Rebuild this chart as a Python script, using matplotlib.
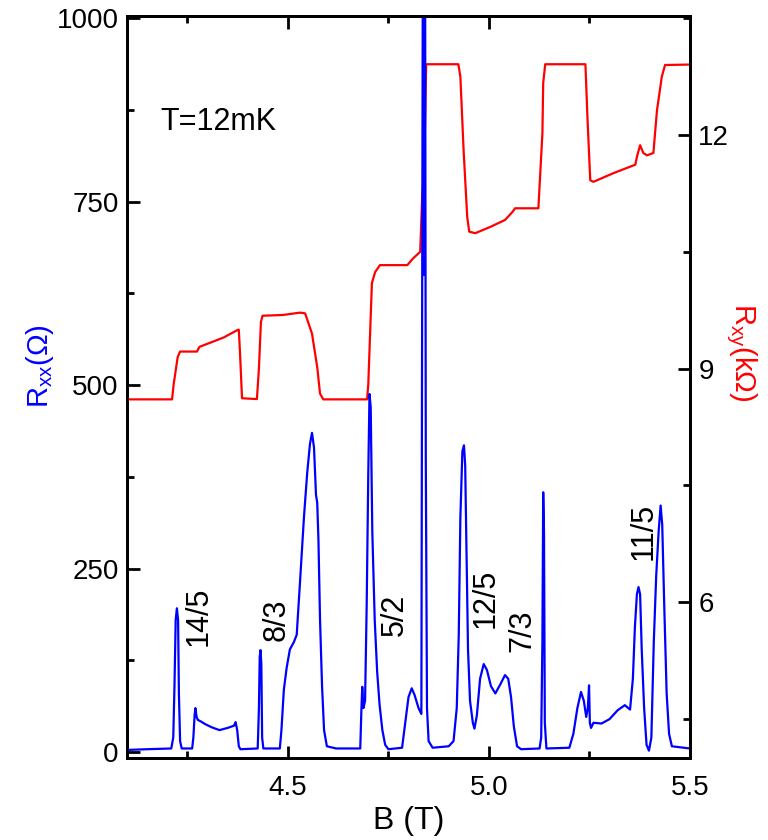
import matplotlib
matplotlib.use("Agg")
import matplotlib.pyplot as plt
from matplotlib.ticker import MultipleLocator

plt.rcParams['font.family'] = ['Liberation Sans', 'DejaVu Sans']
plt.rcParams['mathtext.fontset'] = 'custom'
plt.rcParams['mathtext.rm'] = 'Liberation Sans'

# Longitudinal resistance R_xx (Ohm) vs field B (T)
b_xx = [4.10, 4.15, 4.210, 4.215, 4.218, 4.221, 4.224, 4.227, 4.229, 4.232, 4.236,
        4.262, 4.265, 4.268, 4.270, 4.273, 4.276, 4.283, 4.295, 4.310, 4.330, 4.350,
        4.366, 4.370, 4.374, 4.378, 4.382,
        4.425, 4.428, 4.430, 4.432, 4.434, 4.436, 4.439,
        4.480, 4.484, 4.490, 4.497, 4.505, 4.515, 4.522, 4.530, 4.540, 4.548, 4.555,
        4.560, 4.565, 4.570, 4.573, 4.576, 4.580, 4.585, 4.590, 4.597, 4.620,
        4.680, 4.683, 4.685, 4.688, 4.692, 4.696, 4.700, 4.703, 4.706, 4.710, 4.716,
        4.722, 4.728, 4.735, 4.742, 4.750,
        4.784, 4.792, 4.800, 4.808, 4.815, 4.825, 4.832,
        4.834, 4.836, 4.838, 4.839, 4.841, 4.843, 4.846, 4.850, 4.860,
        4.900, 4.912, 4.920, 4.925, 4.929, 4.934, 4.938, 4.941, 4.944, 4.948, 4.953,
        4.960, 4.964, 4.970, 4.978, 4.987, 4.995, 5.005, 5.016, 5.028, 5.040, 5.048,
        5.055, 5.062, 5.070, 5.080,
        5.126, 5.130, 5.133, 5.135, 5.137, 5.139, 5.143,
        5.200, 5.210, 5.220, 5.229, 5.236, 5.242, 5.246, 5.249, 5.251, 5.254, 5.260,
        5.280, 5.300, 5.320, 5.338, 5.351, 5.358, 5.363, 5.368, 5.372, 5.376, 5.380,
        5.386, 5.392, 5.398, 5.404, 5.410, 5.416, 5.422, 5.427, 5.431, 5.436, 5.442,
        5.448, 5.455, 5.500]
r_xx = [3, 4, 5, 20, 90, 180, 196, 180, 80, 15, 5,
        5, 20, 50, 60, 48, 44, 42, 38, 34, 30, 33,
        36, 41, 30, 8, 4,
        5, 60, 130, 139, 120, 20, 5,
        5, 30, 85, 115, 140, 150, 160, 230, 320, 380, 420,
        435, 415, 350, 340, 290, 180, 90, 30, 8, 5,
        5, 60, 89, 60, 70, 200, 380, 488, 470, 300, 180,
        110, 65, 30, 10, 4,
        6, 40, 75, 87, 78, 60, 52,
        600, 1200, 650, 1200, 1200, 400, 60, 15, 6,
        8, 15, 60, 160, 320, 410, 418, 390, 280, 140, 70,
        40, 32, 50, 100, 120, 112, 90, 80, 92, 105, 100,
        75, 35, 8, 4,
        5, 20, 150, 354, 300, 40, 5,
        6, 25, 60, 82, 70, 48, 60, 91, 40, 33, 40,
        39, 45, 57, 64, 58, 100, 170, 215, 225, 215, 140,
        60, 10, 2, 20, 150, 240, 300, 336, 310, 200, 80,
        25, 8, 5]

# Hall resistance R_xy (kOhm) vs field B (T)
b_xy = [4.10, 4.212, 4.216, 4.226, 4.232, 4.274, 4.280, 4.300, 4.340, 4.376,
        4.378, 4.381, 4.386, 4.423, 4.428, 4.433, 4.437, 4.488, 4.530, 4.543,
        4.560, 4.573, 4.580, 4.588, 4.697, 4.700, 4.709, 4.717, 4.729, 4.797,
        4.812, 4.829, 4.834, 4.839, 4.844, 4.924, 4.929, 4.937, 4.946, 4.951,
        4.966, 5.003, 5.040, 5.058, 5.065, 5.123, 5.133, 5.135, 5.140, 5.240,
        5.245, 5.252, 5.260, 5.309, 5.364, 5.369, 5.376, 5.384, 5.393, 5.409,
        5.418, 5.430, 5.438, 5.500]
r_xy = [8.606, 8.606, 8.80, 9.15, 9.22, 9.22, 9.28, 9.32, 9.40, 9.50,
        9.50, 9.20, 8.62, 8.61, 9.00, 9.60, 9.68, 9.69, 9.72, 9.71,
        9.45, 9.02, 8.68, 8.606, 8.606, 8.80, 10.10, 10.24, 10.33, 10.33,
        10.42, 10.50, 11.20, 11.59, 12.91, 12.91, 12.75, 11.81, 10.95, 10.76,
        10.74, 10.82, 10.91, 11.01, 11.06, 11.06, 12.02, 12.67, 12.91, 12.91,
        12.23, 11.42, 11.40, 11.51, 11.62, 11.74, 11.87, 11.77, 11.74, 11.77,
        12.32, 12.75, 12.90, 12.906]

# Filling-factor labels and their anchor points (B, R_xx)
nu_labels = ['14/5', '8/3', '5/2', '12/5', '7/3', '11/5']
nu_b = [4.277, 4.473, 4.767, 4.991, 5.083, 5.384]
nu_r = [185, 180, 187, 210, 165, 301]

fig = plt.figure(figsize=(7.68, 8.4), dpi=100)
ax = fig.add_axes([0.1654, 0.0976, 0.733, 0.8834])
ax2 = ax.twinx()
ax.set_zorder(ax2.get_zorder() + 1)
ax.patch.set_visible(False)

ax2.plot(b_xy, r_xy, color='#ff0000', lw=1.6)
ax.plot(b_xx, r_xx, color='#0000ff', lw=1.6)

ax.set_xlim(4.1, 5.5)
ax.set_ylim(-8, 1003)
ax2.set_ylim(4.0, 13.53)

ax.xaxis.set_major_locator(MultipleLocator(0.5))
ax.xaxis.set_minor_locator(MultipleLocator(0.25))
ax.yaxis.set_major_locator(MultipleLocator(250))
ax.yaxis.set_minor_locator(MultipleLocator(125))
ax2.yaxis.set_major_locator(MultipleLocator(3))
ax2.yaxis.set_minor_locator(MultipleLocator(1.5))
ax.xaxis.set_major_formatter(plt.FuncFormatter(lambda v, p: f'{v:.1f}'))

for a in (ax, ax2):
    for s in a.spines.values():
        s.set_linewidth(2.0)
ax.tick_params(axis='both', which='major', direction='in', length=9, width=2.0,
               labelsize=20)
ax.tick_params(axis='both', which='minor', direction='in', length=5, width=2.0)
ax.tick_params(axis='x', which='both', top=True)
ax.tick_params(axis='x', which='major', pad=12)
ax.tick_params(axis='y', which='major', pad=6)
ax2.tick_params(axis='y', which='major', direction='in', length=9, width=2.0,
                labelsize=20, pad=6)
ax2.tick_params(axis='y', which='minor', direction='in', length=5, width=2.0)

ax.set_xlabel('B (T)', fontsize=23, labelpad=4)

# Axis titles placed in figure coordinates
fig.text(40 / 768, 1 - 366 / 840, r'R$_{\mathregular{xx}}$(Ω)', fontsize=21,
         color='#0000ff', rotation=90, ha='center', va='center')
fig.text(741 / 768, 1 - 352 / 840, r'R$_{\mathregular{xy}}$(kΩ)', fontsize=21,
         color='#ff0000', rotation=270, ha='center', va='center')

ax.text(4.182, 858, 'T=12mK', fontsize=22, ha='left', va='center')
for lab, xb, yr in zip(nu_labels, nu_b, nu_r):
    ax.text(xb, yr, lab, fontsize=22, rotation=90, ha='center', va='center')

fig.savefig('out.png', dpi=100)
